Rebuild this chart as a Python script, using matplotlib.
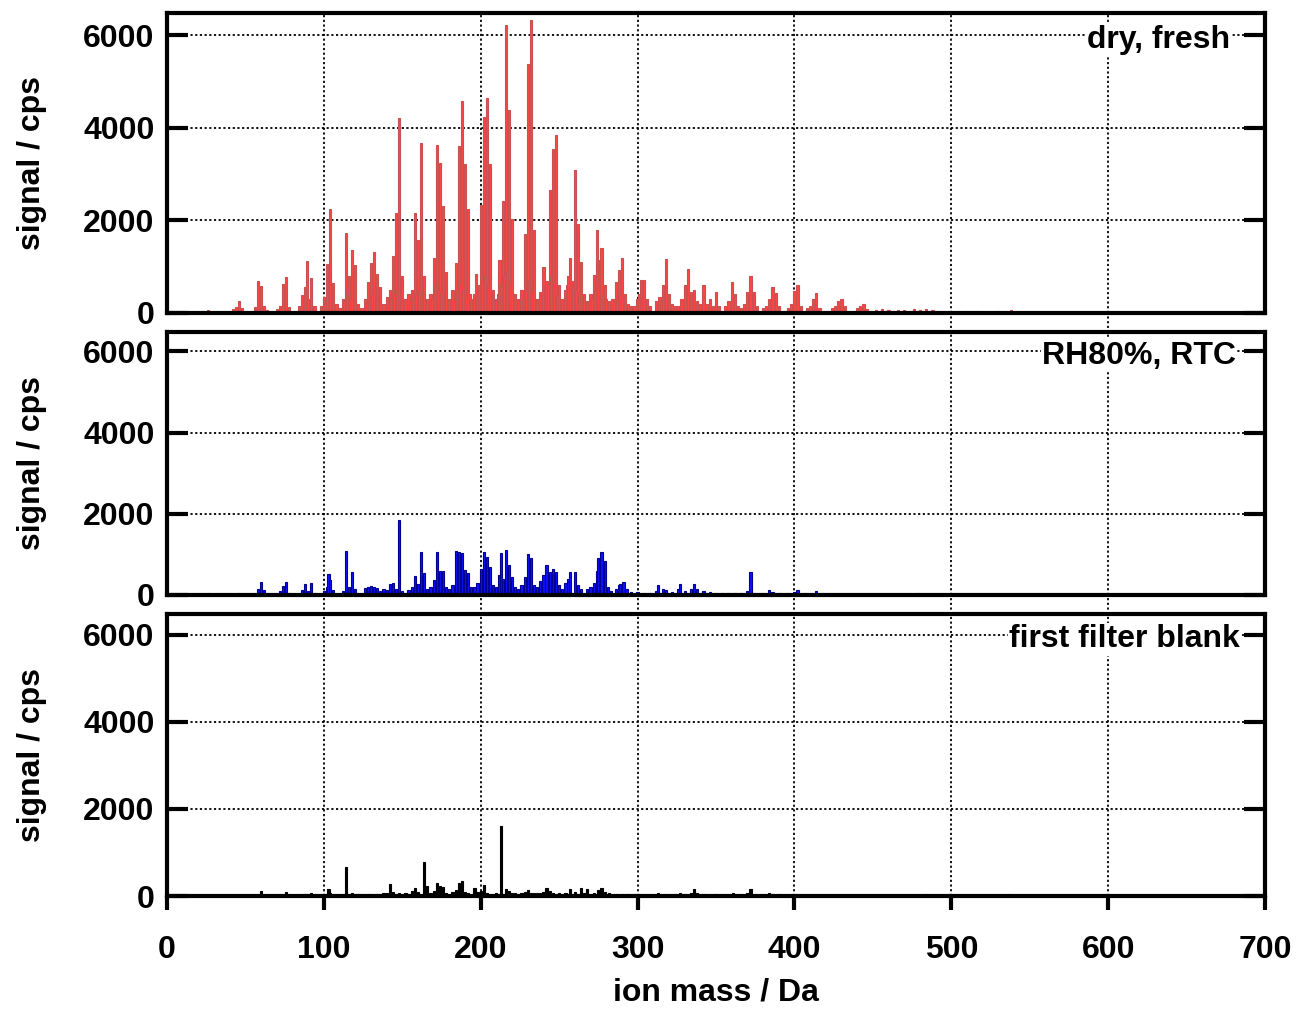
import matplotlib
matplotlib.use("Agg")
import matplotlib.pyplot as plt
import numpy as np

plt.rcParams['font.family'] = ['Liberation Sans', 'DejaVu Sans']
plt.rcParams['font.weight'] = 'bold'

# peak lists: (ion mass / Da, signal / cps)
dry_fresh = [
    (26, 60), (42, 80), (44, 120), (46, 250), (48, 110),
    (56, 120), (58, 700), (60, 590), (62, 150), (64, 60),
    (70, 80), (72, 150), (74, 620), (76, 780), (78, 120),
    (84, 150), (86, 390), (88, 560), (89, 1130), (90, 300), (92, 750), (94, 150),
    (98, 150), (100, 350), (101, 250), (102, 1050), (104, 2240), (105, 600), (106, 640), (108, 200), (110, 100),
    (112, 300), (113, 250), (114, 1730), (115, 500), (116, 790), (117, 350), (118, 1360), (119, 300), (120, 1035), (122, 200), (124, 100),
    (126, 300), (127, 200), (128, 680), (129, 250), (130, 1085), (131, 400), (132, 1310), (133, 300), (134, 850), (136, 560), (138, 200),
    (140, 350), (141, 200), (142, 500), (143, 300), (144, 1230), (145, 400), (146, 2160), (147, 500), (148, 4220), (149, 600), (150, 800), (151, 250), (152, 300),
    (154, 400), (155, 250), (156, 500), (157, 350), (158, 2160), (159, 400), (160, 1575), (161, 500), (162, 3680), (163, 500), (164, 790), (165, 250), (166, 300),
    (168, 400), (169, 300), (170, 1180), (171, 600), (172, 3630), (173, 500), (174, 3230), (175, 450), (176, 2315), (177, 300), (178, 880), (180, 300),
    (182, 500), (183, 300), (184, 1080), (185, 500), (186, 3610), (187, 600), (188, 4580), (189, 500), (190, 3220), (191, 400), (192, 2240), (193, 400), (194, 300),
    (196, 400), (197, 840), (198, 350), (199, 600), (200, 2330), (201, 700), (202, 4235), (203, 800), (204, 4650), (205, 600), (206, 3220), (207, 350), (208, 500), (210, 300),
    (211, 400), (212, 1150), (213, 600), (214, 2420), (215, 800), (216, 6230), (217, 900), (218, 4380), (219, 600), (220, 2040), (221, 400), (222, 400), (224, 300),
    (226, 500), (227, 300), (228, 1700), (229, 500), (230, 5385), (231, 700), (232, 6320), (233, 500), (234, 1800), (235, 300), (236, 300), (238, 450),
    (239, 350), (240, 1000), (241, 600), (242, 700), (243, 600), (244, 2650), (245, 800), (246, 3540), (247, 700), (248, 3840), (249, 400), (250, 600), (252, 300),
    (254, 500), (255, 600), (256, 800), (257, 1180), (258, 700), (259, 600), (260, 3085), (261, 500), (262, 1920), (263, 400), (264, 1100), (266, 400), (268, 250),
    (270, 400), (271, 300), (272, 830), (273, 500), (274, 1790), (275, 600), (276, 1140), (277, 1410), (278, 400), (279, 600), (280, 300), (282, 250),
    (284, 300), (285, 250), (286, 680), (287, 300), (288, 930), (289, 400), (290, 1180), (292, 400), (294, 200), (296, 150),
    (298, 150), (300, 300), (301, 400), (302, 710), (303, 350), (304, 720), (306, 300), (308, 150),
    (312, 250), (314, 350), (315, 250), (316, 600), (318, 1160), (320, 410), (322, 200), (324, 150),
    (326, 150), (328, 300), (330, 615), (332, 940), (334, 450), (336, 490), (338, 250),
    (340, 200), (342, 600), (344, 200), (346, 300), (348, 150), (350, 460), (352, 150),
    (356, 150), (358, 250), (360, 675), (362, 410), (364, 150), (366, 100),
    (368, 200), (370, 450), (372, 800), (374, 450), (376, 150),
    (380, 100), (382, 150), (384, 300), (386, 560), (388, 430), (390, 150),
    (396, 100), (398, 200), (400, 485), (402, 615), (404, 150),
    (408, 100), (410, 150), (412, 300), (414, 430), (416, 100),
    (424, 100), (426, 150), (428, 250), (430, 300), (432, 150),
    (440, 100), (442, 150), (444, 200), (446, 80),
    (452, 60), (456, 90), (460, 60), (466, 70), (470, 60), (476, 80), (480, 60), (484, 90), (488, 70),
    (492, 50), (498, 50), (504, 40), (510, 40), (516, 40), (522, 30), (530, 40), (538, 60), (544, 30), (556, 20),
]

rh80_rtc = [
    (26, 40), (44, 30), (46, 60), (48, 30),
    (58, 150), (60, 310), (62, 130), (64, 40),
    (72, 100), (74, 220), (76, 310), (78, 60),
    (86, 120), (88, 270), (90, 100), (92, 290), (94, 60),
    (100, 100), (102, 200), (103, 520), (104, 370), (106, 120),
    (112, 100), (114, 1090), (116, 200), (118, 560), (120, 150), (122, 50),
    (126, 180), (128, 200), (130, 220), (132, 200), (134, 180), (136, 100),
    (138, 150), (140, 130), (142, 280), (144, 300), (146, 150), (148, 1845), (150, 100), (152, 60),
    (154, 120), (156, 200), (158, 480), (160, 260), (162, 1066), (164, 540), (166, 150),
    (168, 200), (170, 370), (172, 1066), (174, 590), (176, 590), (178, 200), (180, 150),
    (182, 250), (184, 1090), (186, 1066), (188, 1025), (190, 620), (192, 540), (194, 200),
    (196, 200), (198, 300), (200, 640), (202, 1050), (204, 930), (206, 700), (208, 250), (210, 200),
    (212, 500), (213, 1025), (214, 400), (216, 1107), (218, 740), (220, 450), (222, 200), (224, 150),
    (226, 250), (228, 440), (230, 1000), (232, 920), (234, 250), (236, 200),
    (238, 350), (240, 500), (242, 740), (244, 560), (246, 640), (248, 560), (250, 250), (252, 150),
    (254, 300), (256, 400), (257, 560), (260, 560), (262, 250), (264, 150),
    (268, 150), (270, 200), (272, 300), (274, 600), (275, 920), (277, 1066), (279, 850), (281, 200), (283, 100),
    (286, 150), (288, 250), (289, 280), (291, 330), (293, 150), (296, 80),
    (300, 80), (304, 60), (308, 60), (312, 100), (313, 250), (316, 150), (318, 120),
    (322, 80), (326, 150), (327, 280), (330, 100), (334, 150), (336, 280), (338, 150), (342, 100),
    (346, 80), (350, 60), (354, 60), (358, 60), (362, 50), (366, 40), (370, 100), (372, 560), (374, 60),
    (380, 40), (384, 130), (386, 80), (390, 40), (396, 40), (400, 80), (402, 130), (406, 40), (414, 100), (418, 40),
    (428, 30), (440, 30), (452, 30), (466, 30), (479, 60), (490, 20),
]

filter_blank = [
    (26, 20), (60, 115), (76, 85), (88, 55), (92, 70), (100, 40), (103, 153), (104, 80),
    (114, 675), (116, 50), (118, 70), (122, 40), (128, 50), (130, 55), (134, 40), (138, 60),
    (140, 80), (142, 268), (144, 100), (148, 80), (152, 60), (156, 120), (158, 175), (160, 100),
    (164, 790), (166, 220), (168, 60), (170, 120), (172, 307), (174, 230), (176, 200), (178, 80),
    (182, 100), (184, 140), (186, 290), (188, 345), (190, 100), (192, 60), (196, 175), (198, 100),
    (200, 120), (202, 250), (204, 80), (210, 80), (213, 1618), (216, 150), (218, 110), (220, 80),
    (222, 60), (226, 60), (228, 100), (230, 140), (232, 80), (234, 70), (236, 60), (238, 80),
    (240, 100), (242, 190), (244, 120), (246, 80), (250, 60), (254, 80), (257, 150), (260, 100),
    (264, 180), (266, 80), (268, 160), (272, 60), (275, 140), (277, 180), (279, 100), (282, 60),
    (286, 50), (290, 50), (294, 40), (313, 60), (318, 40), (324, 50), (327, 60), (334, 80),
    (336, 168), (338, 80), (342, 40), (350, 40), (361, 80), (370, 60), (372, 168), (384, 60),
    (386, 50), (390, 40), (484, 50), (537, 50),
]

panel_labels = ["dry, fresh", "RH80%, RTC", "first filter blank"]
label_right = [0.968, 0.9736, 0.977]
face_colors = ["#ff4545", "#1010ff", "#000000"]
edge_colors = ["#cc5050", "#000090", "#000000"]
x_ticks = [0, 100, 200, 300, 400, 500, 600, 700]
y_ticks = [0, 2000, 4000, 6000]

W, H = 1296, 1009
fig = plt.figure(figsize=(W / 100, H / 100), dpi=100)

left = 167 / W
width = (1265 - 167) / W
# (top px, bottom px) of each panel
panel_px = [(13, 313), (332, 595), (614, 896)]

dot = (0, (1.2, 1.4))

# vertical grid lines that run through the gaps between panels
bg = fig.add_axes([left, 1 - 896 / H, width, (896 - 13) / H], zorder=0)
bg.set_xlim(0, 700)
bg.set_ylim(0, 1)
bg.axis('off')
for xv in x_ticks[1:-1]:
    bg.axvline(xv, color='k', lw=1.3, linestyle=dot)

axes = []
for i, (spec, lab) in enumerate(zip([dry_fresh, rh80_rtc, filter_blank], panel_labels)):
    top, bot = panel_px[i]
    ax = fig.add_axes([left, 1 - bot / H, width, (bot - top) / H], zorder=1)
    mz, sig = zip(*spec)
    ax.bar(mz, sig, width=1.4, color=face_colors[i], edgecolor=edge_colors[i],
           linewidth=0.8, zorder=2)
    ax.set_xlim(0, 700)
    ax.set_ylim(0, 6480)
    ax.set_xticks(x_ticks)
    ax.set_yticks(y_ticks)
    ax.grid(True, color='k', lw=1.3, linestyle=dot)
    ax.set_axisbelow(True)
    for s in ax.spines.values():
        s.set_linewidth(3)
        s.set_zorder(4)
    ax.tick_params(axis='y', which='both', direction='in', length=15, width=3,
                   left=True, right=True, labelsize=23, pad=9)
    if i < 2:
        ax.tick_params(axis='x', bottom=False, labelbottom=False)
    else:
        ax.tick_params(axis='x', direction='out', length=10, width=3,
                       labelsize=23, pad=18)
        ax.set_xlabel("ion mass / Da", fontsize=23, fontweight='bold', labelpad=9)
    ax.set_ylabel("signal / cps", fontsize=23, fontweight='bold', labelpad=26)
    ax.text(label_right[i], 5900, lab, transform=ax.get_yaxis_transform(), ha='right', va='center',
            fontsize=23, fontweight='bold', zorder=5,
            bbox=dict(facecolor='white', edgecolor='none', pad=1.0))
    axes.append(ax)

fig.savefig("out.png", dpi=100)
